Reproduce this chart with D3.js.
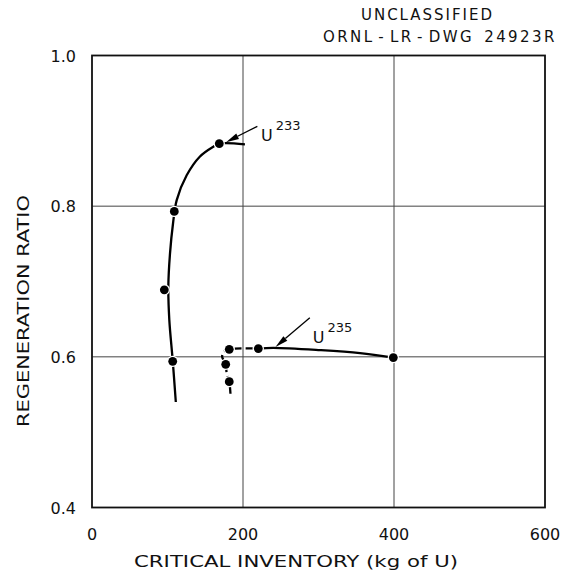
<!DOCTYPE html>
<html>
<head>
<meta charset="utf-8">
<script src="https://cdn.jsdelivr.net/npm/d3@7"></script>
<style>
  html, body { margin: 0; padding: 0; background: #fff; }
  svg { display: block; }
  text { font-family: "DejaVu Sans", "Liberation Sans", sans-serif; fill: #111; }
</style>
</head>
<body>
<svg id="chart" width="568" height="575"></svg>
<script>
// Axis ticks
const xTicks = [0, 200, 400, 600];
const yTicks = [0.4, 0.6, 0.8, 1.0];
const yTickLabels = ["0.4", "0.6", "0.8", "1.0"];

// U-233 fuel: curve trace (critical inventory kg, regeneration ratio) and computed points
const u233CurveKg    = [111, 107, 102.4, 101.1, 103.3, 107.3, 112.2, 125.4, 143, 160.7, 168.6, 202.6];
const u233CurveRatio = [0.540, 0.594, 0.649, 0.693, 0.737, 0.777, 0.808, 0.841, 0.866, 0.879, 0.883, 0.882];
const u233PointKg    = [168.6, 109.0, 95.8, 106.9];
const u233PointRatio = [0.883, 0.793, 0.689, 0.594];

// U-235 fuel: dashed low-inventory branch, solid branch, computed points
const u235DashKg     = [183.4, 181.8, 178.4, 177.1, 172.4, 174.2, 181.8, 220.3];
const u235DashRatio  = [0.551, 0.567, 0.578, 0.590, 0.600, 0.606, 0.610, 0.611];
const u235SolidKg    = [220.3, 240.1, 302, 355, 399.1];
const u235SolidRatio = [0.611, 0.612, 0.609, 0.605, 0.599];
const u235PointKg    = [181.8, 220.3, 399.1, 177.1, 181.8];
const u235PointRatio = [0.610, 0.611, 0.599, 0.590, 0.567];

// Curve labels with leader arrows: [tailKg, tailRatio, tipKg, tipRatio, labelKg, labelRatio]
const labelNames = ["233", "235"];
const labelArrows = [
  [219, 0.906, 177.5, 0.885, 224, 0.887],
  [288.5, 0.652, 243, 0.613, 292.5, 0.619]
];

// Drawing number block, split where the lettering leaves wider gaps
const stampTop = "UNCLASSIFIED";
const stampParts = ["ORNL", "-", "LR", "-", "DWG", " 24923R"];

const W = 568, H = 575;
const margin = { top: 55.5, right: 23, bottom: 67.5, left: 92 };

const svg = d3.select("#chart");
const x = d3.scaleLinear().domain([0, 600]).range([margin.left, W - margin.right]);
const y = d3.scaleLinear().domain([0.4, 1.0]).range([H - margin.bottom, margin.top]);

// Grid lines
const grid = svg.append("g");
grid.selectAll("line.gx").data(xTicks.slice(1, -1)).join("line")
  .attr("x1", d => x(d)).attr("x2", d => x(d))
  .attr("y1", y(0.4)).attr("y2", y(1.0))
  .attr("stroke", "#444").attr("stroke-width", 1);
grid.selectAll("line.gy").data(yTicks.slice(1, -1)).join("line")
  .attr("y1", d => y(d)).attr("y2", d => y(d))
  .attr("x1", x(0)).attr("x2", x(600))
  .attr("stroke", "#444").attr("stroke-width", 1);

// Frame
svg.append("rect")
  .attr("x", x(0)).attr("y", y(1.0))
  .attr("width", x(600) - x(0)).attr("height", y(0.4) - y(1.0))
  .attr("fill", "none").attr("stroke", "#111").attr("stroke-width", 1.8);

// Tick labels
svg.append("g").selectAll("text").data(xTicks).join("text")
  .attr("x", d => x(d)).attr("y", y(0.4) + 32)
  .attr("text-anchor", "middle").attr("font-size", 16)
  .text(d => d);
svg.append("g").selectAll("text").data(yTicks).join("text")
  .attr("x", x(0) - 16).attr("y", d => y(d) + 6)
  .attr("text-anchor", "end").attr("font-size", 16)
  .text((d, i) => yTickLabels[i]);

// Axis titles
svg.append("text")
  .attr("x", 296).attr("y", 567)
  .attr("text-anchor", "middle").attr("font-size", 15)
  .attr("textLength", 324).attr("lengthAdjust", "spacingAndGlyphs")
  .text("CRITICAL INVENTORY (kg of U)");
svg.append("text")
  .attr("transform", "translate(29,311) rotate(-90)")
  .attr("text-anchor", "middle").attr("font-size", 15)
  .attr("textLength", 232).attr("lengthAdjust", "spacingAndGlyphs")
  .text("REGENERATION RATIO");

// Drawing number block
svg.append("text")
  .attr("x", 361).attr("y", 20)
  .attr("font-size", 15)
  .attr("textLength", 131).attr("lengthAdjust", "spacing")
  .text(stampTop);
const stamp = svg.append("text")
  .attr("x", 323).attr("y", 42)
  .attr("font-size", 15).attr("letter-spacing", 2.4)
  .attr("xml:space", "preserve");
stamp.selectAll("tspan").data(stampParts).join("tspan")
  .attr("dx", (d, i) => i === 0 ? 0 : (d === "-" || stampParts[i - 1] === "-" ? 4 : 3))
  .text(d => d);

// Curves
const line = d3.line().x(d => x(d[0])).y(d => y(d[1])).curve(d3.curveCatmullRom.alpha(0.5));
const zip = (a, b) => a.map((v, i) => [v, b[i]]);

svg.append("path").datum(zip(u233CurveKg, u233CurveRatio))
  .attr("d", line).attr("fill", "none").attr("stroke", "#000").attr("stroke-width", 2.3);
svg.append("path").datum(zip(u235DashKg, u235DashRatio))
  .attr("d", line).attr("fill", "none").attr("stroke", "#000").attr("stroke-width", 2.3)
  .attr("stroke-dasharray", "7,4");
svg.append("path").datum(zip(u235SolidKg, u235SolidRatio))
  .attr("d", line).attr("fill", "none").attr("stroke", "#000").attr("stroke-width", 2.3);

// Computed points, with a white halo that breaks the curve near each dot
const pts = zip(u233PointKg, u233PointRatio).concat(zip(u235PointKg, u235PointRatio));
svg.append("g").selectAll("circle").data(pts).join("circle")
  .attr("cx", d => x(d[0])).attr("cy", d => y(d[1])).attr("r", 4.4)
  .attr("fill", "#000").attr("stroke", "#fff").attr("stroke-width", 2.5)
  .attr("paint-order", "stroke");

// Leader arrows and isotope labels
const ann = svg.append("g");
labelArrows.forEach((a, i) => {
  const [tx, ty, hx, hy, lx, ly] = a;
  const x0 = x(tx), y0 = y(ty), x1 = x(hx), y1 = y(hy);
  const ang = Math.atan2(y1 - y0, x1 - x0);
  const len = 13, half = 3;
  const bx = x1 - len * Math.cos(ang), by = y1 - len * Math.sin(ang);
  ann.append("line")
    .attr("x1", x0).attr("y1", y0).attr("x2", bx).attr("y2", by)
    .attr("stroke", "#000").attr("stroke-width", 1.3);
  ann.append("path")
    .attr("d", `M${x1},${y1} L${bx + half * Math.sin(ang)},${by - half * Math.cos(ang)} L${bx - half * Math.sin(ang)},${by + half * Math.cos(ang)} Z`)
    .attr("fill", "#000");
  const t = ann.append("text").attr("x", x(lx)).attr("y", y(ly)).attr("font-size", 16);
  t.append("tspan").text("U");
  t.append("tspan").attr("dx", 3).attr("dy", -11).attr("font-size", 13).text(labelNames[i]);
});
</script>
</body>
</html>
